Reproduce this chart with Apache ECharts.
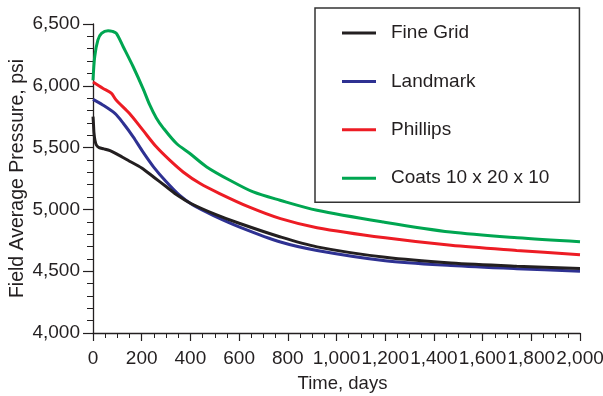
<!DOCTYPE html>
<html>
<head>
<meta charset="utf-8">
<script src="https://cdn.jsdelivr.net/npm/echarts@6/dist/echarts.min.js"></script>
<style>
html,body{margin:0;padding:0;background:#fff;}
#chart{width:603px;height:396px;}
</style>
</head>
<body>
<div id="chart"></div>
<script>
const seriesNames = ['Fine Grid', 'Landmark', 'Phillips', 'Coats 10 x 20 x 10'];

const fineGridDays = [0, 2, 4, 8, 14, 25, 45, 70, 100, 150, 200, 250, 300, 350, 400, 500, 600, 770, 920, 1200, 1470, 1740, 2000];
const fineGridPsi  = [5750, 5690, 5620, 5560, 5520, 5500, 5490, 5475, 5445, 5390, 5335, 5260, 5185, 5110, 5050, 4962, 4888, 4777, 4697, 4612, 4566, 4540, 4522];

const landmarkDays = [0, 40, 90, 125, 165, 205, 250, 300, 355, 410, 495, 605, 770, 920, 1200, 1470, 1740, 2000];
const landmarkPsi  = [5890, 5845, 5776, 5695, 5587, 5465, 5340, 5225, 5115, 5035, 4950, 4855, 4736, 4668, 4585, 4546, 4520, 4500];

const phillipsDays = [0, 40, 75, 95, 150, 205, 260, 315, 370, 440, 520, 640, 770, 920, 1200, 1470, 1740, 2000];
const phillipsPsi  = [6030, 5980, 5940, 5885, 5776, 5641, 5506, 5398, 5303, 5209, 5128, 5020, 4925, 4852, 4770, 4709, 4668, 4633];

const coatsDays = [0, 7, 20, 35, 62, 80, 96, 124, 165, 206, 233, 260, 288, 343, 398, 467, 562, 658, 768, 920, 1193, 1468, 1742, 2000];
const coatsPsi  = [6045, 6235, 6370, 6424, 6446, 6440, 6424, 6316, 6154, 5975, 5845, 5740, 5660, 5533, 5452, 5344, 5236, 5141, 5074, 4993, 4898, 4817, 4771, 4739];

const xTickLabels = ['0', '200', '400', '600', '800', '1,000', '1,200', '1,400', '1,600', '1,800', '2,000'];
const yTickLabels = ['4,000', '4,500', '5,000', '5,500', '6,000', '6,500'];

const colors = ['#231f20', '#2e3192', '#ed1c24', '#00a651'];
const FONT = 'Liberation Sans, Arial, Helvetica, sans-serif';
const TXT = '#231f20';

function pairs(xs, ys) { return xs.map((x, i) => [x, ys[i]]); }
const allData = [
  pairs(fineGridDays, fineGridPsi),
  pairs(landmarkDays, landmarkPsi),
  pairs(phillipsDays, phillipsPsi),
  pairs(coatsDays, coatsPsi)
];

const chart = echarts.init(document.getElementById('chart'), null, {renderer: 'canvas'});
chart.setOption({
  animation: false,
  backgroundColor: '#fff',
  color: colors,
  textStyle: {fontFamily: FONT},
  grid: {left: 93, right: 23, top: 24, bottom: 63, containLabel: false, outerBoundsMode: 'none'},
  legend: {
    show: true,
    orient: 'vertical',
    left: 315,
    top: 8,
    icon: 'rect',
    itemWidth: 34,
    itemHeight: 3,
    itemGap: 28.4,
    padding: [15, 30, 14, 27],
    borderColor: '#333',
    borderWidth: 1.5,
    backgroundColor: '#fff',
    data: seriesNames,
    textStyle: {fontFamily: FONT, fontSize: 19, color: TXT, lineHeight: 20, padding: [0, 0, 0, 10]}
  },
  xAxis: {
    type: 'value',
    min: 0, max: 2000, interval: 200,
    name: 'Time, days',
    nameLocation: 'middle',
    nameGap: 41,
    nameMoveOverlap: false,
    nameTextStyle: {fontFamily: FONT, fontSize: 18.5, color: TXT, padding: [0, 0, 0, 12]},
    axisLine: {show: true, lineStyle: {color: TXT, width: 1.3}},
    axisTick: {show: true, length: 8, lineStyle: {color: TXT, width: 1.2}},
    minorTick: {show: true, splitNumber: 4, length: 5, lineStyle: {color: TXT, width: 1}},
    splitLine: {show: false},
    axisLabel: {
      fontFamily: FONT, fontSize: 19, color: TXT, margin: 16,
      formatter: v => xTickLabels[Math.round(v / 200)]
    }
  },
  yAxis: {
    type: 'value',
    min: 4000, max: 6500, interval: 500,
    name: 'Field Average Pressure, psi',
    nameLocation: 'middle',
    nameRotate: 90,
    nameGap: 65,
    nameMoveOverlap: false,
    nameTextStyle: {fontFamily: FONT, fontSize: 19.5, color: TXT},
    axisLine: {show: true, lineStyle: {color: TXT, width: 1.3}},
    axisTick: {show: true, length: 10, lineStyle: {color: TXT, width: 1.2}},
    minorTick: {show: true, splitNumber: 5, length: 6, lineStyle: {color: TXT, width: 1}},
    splitLine: {show: false},
    axisLabel: {
      fontFamily: FONT, fontSize: 19, color: TXT, margin: 13,
      formatter: v => yTickLabels[Math.round((v - 4000) / 500)]
    }
  },
  series: [3, 2, 1, 0].map(i => ({
    name: seriesNames[i],
    type: 'line',
    data: allData[i],
    showSymbol: false,
    symbol: 'none',
    smooth: 0.3,
    lineStyle: {width: 3, color: colors[i]},
    itemStyle: {color: colors[i]},
    z: 2 + (3 - i)
  }))
});
</script>
</body>
</html>
